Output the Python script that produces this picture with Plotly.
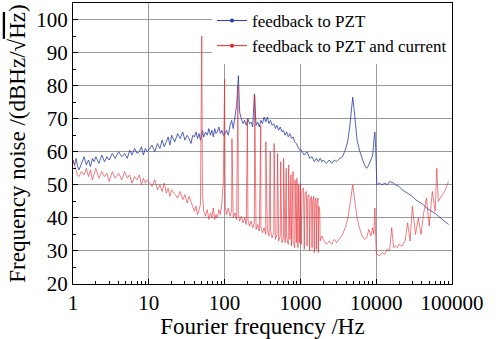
import plotly.graph_objects as go

# ---------------- data ----------------
FREQ = [
    1.0, 1.05, 1.1, 1.15, 1.2, 1.3, 1.4, 1.5, 1.6, 1.7, 1.8, 1.9, 2.0, 2.2, 2.4, 2.6, 2.8,
    3.0, 3.3, 3.6, 4.0, 4.4, 4.8, 5.2, 5.6, 6.0, 6.5, 7.0, 7.5, 8.0, 8.5, 9.0, 9.5,
    10, 11, 12, 13, 14, 15, 16, 17, 18, 19, 20, 22, 24, 26, 28, 30, 32, 34, 36, 38,
    40, 42, 44, 46, 48, 51, 53, 56, 59, 62, 65, 68, 71, 74, 77, 80, 84, 88, 92, 96,
    102, 106, 112, 118, 124, 130, 137, 144, 152, 158, 166, 175, 184, 193, 203, 213,
    224, 235, 247, 260, 273, 287, 301, 316, 332, 349, 366, 385, 404, 424, 445, 468,
    491, 516, 542, 569, 598, 628, 659, 692, 727, 763, 801, 841, 883, 927, 973,
    1025, 1125, 1225, 1325, 1425, 1525, 1625, 1725, 1825, 1925, 2000, 2200, 2400,
    2600, 2800, 3000, 3300, 3600, 3900, 4200, 4500, 4700, 4900, 5100, 5300, 5600,
    6000, 6500, 7000, 7500, 8000, 8500, 9000, 9300, 9600, 9850,
    10000, 10200, 11000, 12000, 13000, 14000, 15000, 16000, 17000, 18000, 19000,
    20000, 22000, 24000, 26000, 28000, 30000, 33000, 36000, 39000, 42000, 46000,
    50000, 55000, 60000, 63000, 66000, 70000, 75000, 80000, 85000, 90000,
]

PZT_DB = [
    57.5, 56.0, 58.0, 55.5, 54.5, 56.5, 58.5, 56.0, 57.5, 55.5, 58.0, 57.0, 58.5, 56.5, 59.0, 57.0, 58.5,
    57.5, 59.5, 58.0, 60.0, 58.5, 59.5, 58.0, 60.5, 59.0, 61.0, 59.5, 60.0, 61.5, 59.0, 61.0, 60.0,
    60.5, 62.0, 60.0, 62.5, 61.0, 63.5, 61.5, 63.0, 64.5, 62.0, 65.0, 63.0, 65.5, 64.0, 66.0, 63.5, 65.0, 64.0, 62.5, 65.0,
    64.5, 66.0, 64.0, 65.5, 63.5, 66.5, 64.5, 66.0, 65.0, 67.0, 65.0, 66.5, 64.5, 67.0, 65.5, 66.0, 67.5, 65.5, 66.5, 65.0,
    65.5, 66.5, 65.0, 68.0, 69.5, 67.0, 70.0, 74.0, 83.0, 72.0, 70.0, 68.5, 69.5, 68.0, 70.0, 68.5,
    69.0, 67.5, 77.5, 68.0, 69.0, 67.5, 69.5, 68.5, 70.5, 69.0, 70.5, 68.5, 69.5, 68.0, 68.5, 67.0,
    68.0, 66.5, 67.5, 66.0, 66.5, 65.0, 66.0, 64.5, 65.5, 64.0, 64.5, 63.0, 62.5, 61.5, 60.5,
    60.5, 59.0, 60.0, 58.0, 58.5, 57.0, 58.0, 57.0, 58.0, 57.0, 57.5, 56.5, 57.5,
    56.5, 57.5, 57.0, 58.0, 58.5, 60.5, 63.0, 68.0, 73.0, 76.5, 73.0, 68.0, 63.5,
    60.5, 58.0, 56.0, 55.0, 56.0, 57.5, 59.0, 63.0, 66.0, 61.0,
    55.0, 50.0, 50.5, 50.0, 50.5, 50.0, 51.0, 50.8, 50.5, 50.0, 49.8,
    49.5, 48.5, 48.0, 47.5, 47.0, 46.5, 45.5, 45.0, 44.5, 44.0, 43.0,
    42.5, 42.0, 41.5, 41.0, 40.5, 40.0, 39.5, 39.0, 38.5, 38.0,
]

PZT_CUR_DB = [
    57.5, 56.0, 54.0, 53.0, 52.5, 54.0, 53.0, 55.0, 52.5, 54.5, 51.5, 53.5, 55.0, 52.0, 54.0, 52.5, 53.5,
    51.0, 54.0, 52.0, 53.5, 51.5, 54.0, 52.0, 53.0, 50.5, 52.5, 51.5, 53.0, 50.0, 52.0, 50.5, 51.5,
    51.0, 49.5, 51.5, 48.5, 50.0, 48.0, 50.5, 47.5, 49.0, 46.5, 48.5, 47.0, 46.0, 48.0, 45.5, 47.0, 44.5, 46.5, 45.0, 43.5,
    42.0, 43.5, 41.0, 42.5, 44.0, 47.5, 42.0, 40.5, 42.5, 39.5, 41.5, 40.0, 43.0, 39.5, 41.0, 40.0, 42.5, 41.0, 44.5, 50.5,
    43.5, 41.0, 43.0, 40.5, 42.0, 40.0, 41.5, 39.5, 41.0, 39.0, 40.5, 38.5, 40.0, 38.0, 39.5, 37.5,
    39.0, 37.0, 38.5, 36.5, 38.0, 36.0, 37.5, 35.5, 37.0, 35.0, 36.5, 34.5, 36.0, 34.0, 35.5, 33.5,
    35.0, 33.0, 34.5, 32.5, 34.0, 32.5, 34.0, 32.0, 33.5, 31.5, 33.0, 31.0, 32.5, 31.0, 32.5,
    32.0, 30.5, 31.5, 30.0, 31.0, 29.5, 30.5, 29.5, 33.0, 34.5, 33.5, 32.0, 33.0,
    32.0, 33.5, 32.5, 34.0, 35.0, 37.0, 39.5, 44.0, 48.0, 50.0, 47.0, 43.5, 40.0,
    37.0, 34.5, 33.5, 34.0, 36.5, 34.5, 37.0, 35.0, 43.0, 33.0,
    30.0, 29.0, 28.5, 29.5, 29.0, 30.5, 30.0, 37.0, 31.0, 31.5, 31.0,
    32.0, 31.5, 33.0, 38.5, 33.0, 43.5, 35.0, 40.0, 35.0, 41.0, 46.0,
    37.5, 48.0, 42.0, 55.0, 45.0, 46.0, 47.0, 48.0, 49.5, 51.0,
]

# mains-harmonic spikes of the red trace
SPIKE_FREQ = [50, 100, 125, 150, 200, 250, 300, 350, 400, 450, 500, 550, 600, 650, 700,
              750, 800, 850, 900, 950, 1000, 1050, 1100, 1150, 1200, 1250, 1300, 1350,
              1400, 1450, 1500, 1550, 1600, 1650, 1700, 1750, 1800]
SPIKE_DB = [95, 82, 64, 80, 70, 77, 68, 63, 60, 62.5, 59.5, 57, 58, 55, 56,
            53, 54, 51.5, 52, 50, 50.5, 48.5, 49, 47.5, 48, 46.5, 47, 45.5,
            46.5, 45, 46.5, 45, 46, 44.5, 46, 43.5, 42]

LABEL_PZT = "feedback to PZT"
LABEL_CUR = "feedback to PZT and current"

# merge the red baseline with its spikes (sorted by frequency)
red_pts = sorted(list(zip(FREQ, PZT_CUR_DB)) + list(zip(SPIKE_FREQ, SPIKE_DB)),
                 key=lambda p: p[0])
red_x = [p[0] for p in red_pts]
red_y = [p[1] for p in red_pts]

BLUE = "rgb(40,60,170)"
RED = "rgb(228,38,45)"
FONT = "Liberation Serif"

fig = go.Figure()
fig.add_trace(go.Scatter(x=FREQ, y=PZT_DB, mode="lines",
                         line=dict(color=BLUE, width=0.8), showlegend=False))
fig.add_trace(go.Scatter(x=red_x, y=red_y, mode="lines",
                         line=dict(color=RED, width=0.6), showlegend=False))
# legend entries (line with a dot)
fig.add_trace(go.Scatter(x=[None], y=[None], mode="lines+markers", name=LABEL_PZT,
                         line=dict(color=BLUE, width=1), marker=dict(size=4, color=BLUE)))
fig.add_trace(go.Scatter(x=[None], y=[None], mode="lines+markers", name=LABEL_CUR,
                         line=dict(color=RED, width=1), marker=dict(size=4, color=RED)))

fig.update_layout(
    width=504, height=339,
    margin=dict(l=73, r=52, t=3, b=55),
    paper_bgcolor="white", plot_bgcolor="white",
    font=dict(family=FONT, color="black", size=21),
    legend=dict(x=1, y=1, xanchor="right", yanchor="top",
                bgcolor="white", borderwidth=0, itemwidth=30,
                font=dict(family=FONT, size=17), tracegroupgap=0),
)
fig.update_xaxes(
    type="log", range=[0, 5], dtick=1, tickformat="d", exponentformat="none",
    showgrid=True, gridcolor="#9a9a9a", gridwidth=1,
    showline=True, linecolor="black", linewidth=1, mirror=True,
    ticks="inside", ticklen=5, tickcolor="black",
    minor=dict(dtick="D1", ticks="inside", ticklen=3, tickcolor="black", showgrid=False),
    tickfont=dict(size=21, family=FONT),
    title=dict(text="Fourier frequency /Hz", font=dict(size=23, family=FONT), standoff=3),
    zeroline=False,
)
fig.update_yaxes(
    range=[20, 105], tickvals=[20, 30, 40, 50, 60, 70, 80, 90, 100],
    showgrid=True, gridcolor="#9a9a9a", gridwidth=1,
    showline=True, linecolor="black", linewidth=1, mirror=True,
    ticks="inside", ticklen=5, tickcolor="black",
    minor=dict(tickvals=[25, 35, 45, 55, 65, 75, 85, 95], ticks="inside", ticklen=3,
               tickcolor="black", showgrid=False),
    tickfont=dict(size=21, family=FONT),
    title=dict(text='Frequency noise /(dBHz/√<span style="text-decoration:overline">Hz</span>)',
               font=dict(size=23, family=FONT), standoff=4),
    zeroline=False,
)

fig.write_html("out.html")
